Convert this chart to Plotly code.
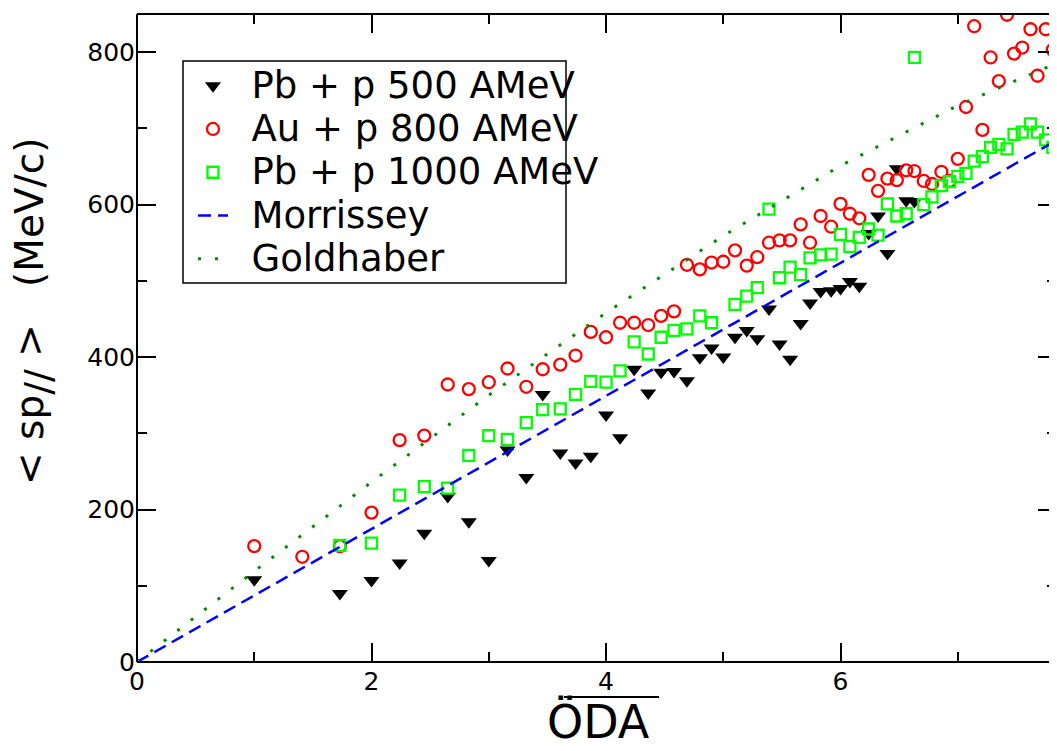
import plotly.graph_objects as go

# ---- data ----
black_x = [1.00,1.73,2.00,2.24,2.45,2.65,2.83,3.00,3.16,3.32,3.46,3.61,3.74,3.87,4.00,4.12,4.24,4.36,4.47,4.58,
           4.69,4.80,4.90,5.00,5.10,5.20,5.29,5.39,5.48,5.57,5.66,5.74,5.83,5.92,6.00,6.08,6.16,6.24,6.32,6.40,
           6.48,6.56,6.63]
black_y = [108,90,107,130,169,217,184,133,278,242,351,274,261,270,324,294,384,353,380,381,
           369,399,412,400,426,435,424,463,417,397,444,471,486,487,490,499,493,562,585,536,
           647,605,604]

red_x = [1.00,1.41,1.73,2.00,2.24,2.45,2.65,2.83,3.00,3.16,3.32,3.46,3.61,3.74,3.87,4.00,4.12,4.24,4.36,4.47,
         4.58,4.69,4.80,4.90,5.00,5.10,5.20,5.29,5.39,5.48,5.57,5.66,5.74,5.83,5.92,6.00,6.08,6.16,6.24,6.32,
         6.40,6.48,6.56,6.63,6.71,6.78,6.86,6.93,7.00,7.07,7.14,7.21,7.28,7.35,7.42,7.48,7.55,7.62,7.68,7.75,
         7.81,7.87]
red_y = [152,138,152,196,291,297,364,358,367,385,361,384,390,402,433,426,445,445,442,454,
         460,521,515,524,525,540,520,531,550,553,553,574,550,585,571,601,588,582,639,618,
         634,632,645,644,631,627,643,631,660,728,834,698,793,762,849,798,806,830,769,830,
         803,845]

green_x = [1.73,2.00,2.24,2.45,2.65,2.83,3.00,3.16,3.32,3.46,3.61,3.74,3.87,4.00,4.12,4.24,4.36,4.47,4.58,4.69,
           4.80,4.90,5.10,5.20,5.29,5.39,5.48,5.57,5.66,5.74,5.83,5.92,6.00,6.08,6.16,6.24,6.32,6.40,6.48,6.56,
           6.63,6.71,6.78,6.86,6.93,7.00,7.07,7.14,7.21,7.28,7.35,7.42,7.48,7.55,7.62,7.68,7.75,7.81,7.87]
green_y = [153,156,219,230,228,271,297,292,314,331,332,351,368,367,382,420,404,426,435,437,
           454,445,469,480,491,594,504,518,508,530,534,535,561,545,557,568,560,601,585,588,
           793,600,610,625,630,637,641,657,663,675,679,673,692,695,706,695,685,675,630]

morrissey_x = [0.0, 7.85]
morrissey_y = [0.0, 685.0]

goldhaber_x = [0, 1, 2, 3, 4, 5, 6, 7, 7.85]
goldhaber_y = [0, 119, 236, 350, 458, 559, 651, 730, 786]

names = ["Pb + p 500 AMeV", "Au + p 800 AMeV", "Pb + p 1000 AMeV", "Morrissey", "Goldhaber"]

x_range = [0, 7.846]
y_range = [0, 850]

FONT = "DejaVu Sans"
LEG_TXT = 37  # glyph size of legend texts

def leg(name):
    return '<span style="font-size:%dpx">\u2002%s</span>' % (LEG_TXT, name)

fig = go.Figure()
fig.add_trace(go.Scatter(x=black_x, y=black_y, mode="markers", name=leg(names[0]),
                         marker=dict(symbol="triangle-down", size=14, color="black", line=dict(width=0))))
fig.add_trace(go.Scatter(x=red_x, y=red_y, mode="markers", name=leg(names[1]),
                         marker=dict(symbol="circle-open", size=12, color="#ff0000", line=dict(width=2.3))))
fig.add_trace(go.Scatter(x=green_x, y=green_y, mode="markers", name=leg(names[2]),
                         marker=dict(symbol="square-open", size=11, color="#00ff00", line=dict(width=2.3))))
fig.add_trace(go.Scatter(x=morrissey_x, y=morrissey_y, mode="lines", name=leg(names[3]),
                         line=dict(color="#0000ff", width=2.5, dash="13px,7px")))
fig.add_trace(go.Scatter(x=goldhaber_x, y=goldhaber_y, mode="lines", name=leg(names[4]),
                         line=dict(color="#008b00", width=3, dash="3px,14px")))

axis_common = dict(
    showgrid=False, zeroline=False, ticks="inside", ticklen=19, tickwidth=1.8,
    tickcolor="black", mirror="ticks", showline=True, linecolor="rgba(0,0,0,0)", linewidth=1,
    tickfont=dict(family=FONT, size=25, color="black"),
)

fig.update_xaxes(range=x_range, tickmode="linear", tick0=0, dtick=2, ticklabelstandoff=-3,
                 minor=dict(dtick=1, ticklen=10, tickwidth=1.8, tickcolor="black", ticks="inside"),
                 **axis_common)
fig.update_yaxes(range=y_range, tickmode="linear", tick0=0, dtick=200, ticklabelstandoff=-4,
                 minor=dict(dtick=100, ticklen=10, tickwidth=1.8, tickcolor="black", ticks="inside"),
                 **axis_common)

# the page body adds an 8 px offset; the figure is sized so the plot lands where the reference has it
OFF = 8
W, H = 1057 - OFF, 751 - OFF
ml, mt, mb = 137 - OFF, 14 - OFF, 89
pw, ph = W - ml, H - mt - mb

def px_to_paper_x(px):
    return (px - OFF - ml) / pw

def px_to_paper_y(py):
    return (H + OFF - mb - py) / ph

shapes = [
    # frame lines (left, bottom, top)
    dict(type="line", xref="paper", yref="paper", x0=0, x1=0, y0=0, y1=1, line=dict(color="black", width=2)),
    dict(type="line", xref="paper", yref="paper", x0=0, x1=1, y0=0, y1=0, line=dict(color="black", width=2)),
    dict(type="line", xref="paper", yref="paper", x0=0, x1=1, y0=1, y1=1, line=dict(color="black", width=2)),
    # legend box
    dict(type="rect", xref="paper", yref="paper",
         x0=px_to_paper_x(183), x1=px_to_paper_x(566), y0=px_to_paper_y(283), y1=px_to_paper_y(61),
         line=dict(color="black", width=1.5), fillcolor="rgba(0,0,0,0)"),
    # overline of the x title
    dict(type="line", xref="paper", yref="paper",
         x0=px_to_paper_x(564), x1=px_to_paper_x(659), y0=px_to_paper_y(697), y1=px_to_paper_y(697),
         line=dict(color="black", width=2)),
]

annotations = [
    dict(text="ÖDA", xref="paper", yref="paper", x=px_to_paper_x(598), y=px_to_paper_y(721.5),
         xanchor="center", yanchor="middle", showarrow=False,
         font=dict(family=FONT, size=46, color="black")),
    dict(text='&lt; sp<sub><span style="font-size:38px">//</span></sub> &gt;' + "\u00a0" * 3 + "(MeV/c)",
         xref="paper", yref="paper",
         x=px_to_paper_x(33), y=px_to_paper_y(312), xanchor="center", yanchor="middle",
         textangle=-90, showarrow=False, font=dict(family=FONT, size=39, color="black")),
]

fig.update_layout(
    width=W, height=H,
    margin=dict(l=ml, r=0, t=mt, b=mb, pad=0),
    paper_bgcolor="white", plot_bgcolor="white",
    font=dict(family=FONT, color="black"),
    legend=dict(x=px_to_paper_x(193), y=px_to_paper_y(59), xanchor="left", yanchor="top",
                bgcolor="rgba(0,0,0,0)", borderwidth=0,
                font=dict(family=FONT, size=31, color="black"), tracegroupgap=0),
    shapes=shapes, annotations=annotations,
)

fig.write_html("out.html")
